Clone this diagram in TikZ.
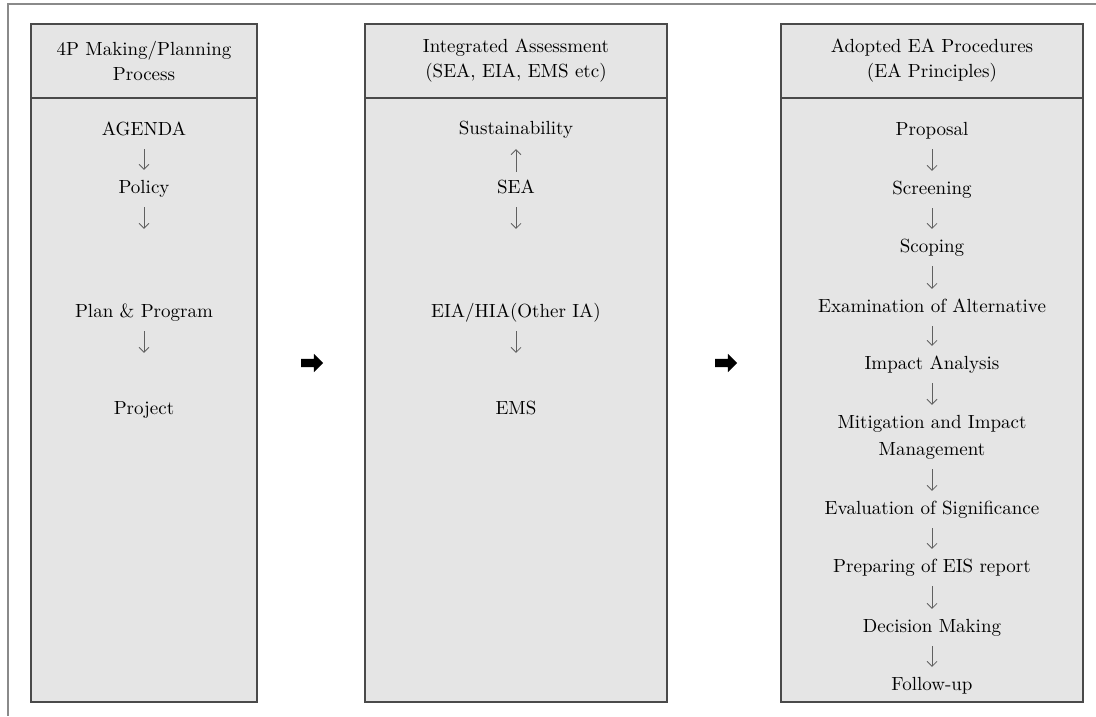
\documentclass[tikz,border=0pt]{standalone}
\usepackage{fontspec}
\setmainfont{lmroman10-regular.otf}
\usetikzlibrary{arrows.meta,shapes.arrows}
\definecolor{panelfill}{HTML}{E5E5E5}
\definecolor{panelline}{HTML}{4A4A4A}
\definecolor{framegray}{HTML}{8A8A8A}
\definecolor{arrgray}{HTML}{606060}
\definecolor{txt}{HTML}{000000}
\begin{document}
\begin{tikzpicture}[x=1pt,y=-1pt,
  panel/.style={draw=panelline, line width=1.3pt, fill=panelfill, inner sep=0pt, outer sep=0pt},
  headtext/.style={panel, align=center, font=\fontsize{19}{25}\selectfont, text=txt},
  item/.style={font=\fontsize{19}{27}\selectfont, text=txt, inner sep=0pt, text height=13pt, text depth=4pt, anchor=base},
  item2/.style={font=\fontsize{19}{27}\selectfont, text=txt, inner sep=0pt, align=center, anchor=center},
  flow/.style={draw=arrgray, line width=0.75pt, -{Straight Barb[length=5pt,width=10pt]}, shorten <=10pt, shorten >=10pt},
  bigarr/.style={single arrow, fill=black, draw=none, minimum height=22pt, minimum width=18pt, single arrow head extend=5pt, inner sep=0pt, text height=4pt, text depth=4pt}
]
\useasboundingbox (0,0) rectangle (1096,716);
\fill[white] (0,0) rectangle (1096,716);
\draw[framegray, line width=1.5pt] (1096,4) -- (8,4) -- (8,716);

% panel 1
\node[headtext, minimum width=226pt, minimum height=74pt] (h1) at (144,61) {4P Making/Planning\\Process};
\node[panel, minimum width=226pt, minimum height=604pt] (b1) at (144,400) {};
% panel 2
\node[headtext, minimum width=302pt, minimum height=74pt] (h2) at (516,61) {Integrated Assessment\\(SEA, EIA, EMS etc)};
\node[panel, minimum width=302pt, minimum height=604pt] (b2) at (516,400) {};
% panel 3
\node[headtext, minimum width=302pt, minimum height=74pt] (h3) at (932,61) {Adopted EA Procedures\\(EA Principles)};
\node[panel, minimum width=302pt, minimum height=604pt] (b3) at (932,400) {};

% big arrows
\node[bigarr] (ba1) at (310,363) {};
\node[bigarr] (ba2) at (724,363) {};

% column 1
\node[item] (agenda) at (144,135) {AGENDA};
\node[item] (policy) at (144,193) {Policy};
\node[item] (plan) at (144,317) {Plan \& Program};
\node[item] (project) at (144,414) {Project};
\draw[flow] (agenda) -- (policy);
\draw[flow, shorten >=75pt] (policy) -- (plan);
\draw[flow, shorten >=48pt] (plan) -- (project);

% column 2
\node[item] (sust) at (516,134) {Sustainability};
\node[item] (sea) at (516,193) {SEA};
\node[item] (eia) at (516,317) {EIA/HIA(Other IA)};
\node[item] (ems) at (516,414) {EMS};
\draw[flow, shorten <=8pt, shorten >=11pt] (sea) -- (sust);
\draw[flow, shorten >=75pt] (sea) -- (eia);
\draw[flow, shorten >=48pt] (eia) -- (ems);

% column 3
\node[item] (proposal) at (932,135) {Proposal};
\node[item] (screening) at (932,194) {Screening};
\node[item] (scoping) at (932,252) {Scoping};
\node[item] (exam) at (932,312) {Examination of Alternative};
\node[item] (impact) at (932,369) {Impact Analysis};
\node[item2] (mitig) at (932,437) {Mitigation and Impact\\Management};
\node[item] (evalsig) at (932,514) {Evaluation of Significance};
\node[item] (eis) at (932,572) {Preparing of EIS report};
\node[item] (decision) at (932,632) {Decision Making};
\node[item] (follow) at (932,690) {Follow-up};
\draw[flow] (proposal) -- (screening);
\draw[flow] (screening) -- (scoping);
\draw[flow] (scoping) -- (exam);
\draw[flow] (exam) -- (impact);
\draw[flow] (impact) -- (mitig);
\draw[flow] (mitig) -- (evalsig);
\draw[flow] (evalsig) -- (eis);
\draw[flow] (eis) -- (decision);
\draw[flow] (decision) -- (follow);
\end{tikzpicture}
\end{document}
